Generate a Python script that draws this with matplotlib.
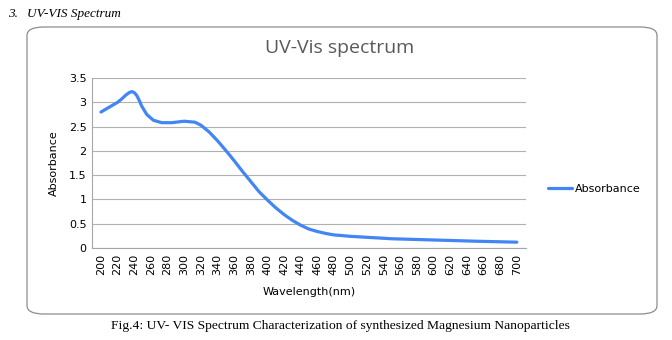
import matplotlib
matplotlib.use("Agg")
import matplotlib.pyplot as plt
from matplotlib.patches import FancyBboxPatch

# wavelengths (nm) and absorbance
wavelength = [200, 210, 220, 225, 230, 234, 237, 240, 243, 246, 249, 255, 263,
              273, 285, 300, 313, 320, 330, 340, 350, 360, 370, 380, 390, 400,
              410, 420, 430, 440, 450, 460, 470, 480, 490, 500, 550, 600, 650,
              700]
absorbance = [2.80, 2.90, 3.00, 3.07, 3.15, 3.20, 3.22, 3.20, 3.14, 3.04, 2.92,
              2.75, 2.63, 2.58, 2.58, 2.61, 2.59, 2.53, 2.39, 2.21, 2.01, 1.80,
              1.58, 1.37, 1.16, 0.99, 0.83, 0.69, 0.57, 0.47, 0.39, 0.34, 0.30,
              0.27, 0.255, 0.24, 0.19, 0.165, 0.14, 0.12]
xticks = list(range(200, 701, 20))
yticks = [0, 0.5, 1, 1.5, 2, 2.5, 3, 3.5]

W, H = 672, 340
fig = plt.figure(figsize=(W / 100, H / 100), dpi=100)

# rounded chart border
box = FancyBboxPatch((27 / W, 1 - 314 / H), 630 / W, 287 / H,
                     boxstyle="round,pad=0,rounding_size=0.025",
                     transform=fig.transFigure, facecolor="white",
                     edgecolor="#8c8c8c", linewidth=0.9, zorder=-1)
fig.patches.append(box)

ax = fig.add_axes([92 / W, 1 - 248 / H, (526 - 92) / W, (248 - 78) / H])
ax.set_zorder(2)
ax.set_facecolor("none")
ax.plot(wavelength, absorbance, color="#4285f4", linewidth=2.3,
        label="Absorbance", solid_capstyle="round", solid_joinstyle="round")

ax.set_xlim(189.2, 711)
ax.set_ylim(0, 3.5)
ax.set_xticks(xticks)
ax.set_xticklabels([str(v) for v in xticks], rotation=90)
ax.set_yticks(yticks)
ax.set_yticklabels(["0", "0.5", "1", "1.5", "2", "2.5", "3", "3.5"])
ax.tick_params(axis="both", length=0, labelsize=8, colors="#000000", pad=4)
ax.grid(axis="y", color="#b0b0b0", linewidth=0.8)
ax.set_axisbelow(True)
for side in ["top", "right"]:
    ax.spines[side].set_visible(False)
for side in ["left", "bottom"]:
    ax.spines[side].set_color("#a6a6a6")
    ax.spines[side].set_linewidth(0.8)

ax.set_xlabel("Wavelength(nm)", fontsize=8, labelpad=9)
ax.set_ylabel("Absorbance", fontsize=8, labelpad=7)

fig.text(340 / W, 1 - 48 / H, "UV-Vis spectrum", ha="center", va="center",
         fontsize=14, color="#595959", family="Open Sans")

ax.legend(loc="center left", bbox_to_anchor=(542 / W, 1 - 189 / H),
          bbox_transform=fig.transFigure, frameon=False, fontsize=8,
          handlelength=2.2, handletextpad=0.3, borderpad=0)

fig.text(8 / W, 1 - 14 / H, "3.", ha="left", va="center",
         fontsize=9.5, style="italic", family="Liberation Serif")
fig.text(27 / W, 1 - 14 / H, "UV-VIS Spectrum", ha="left", va="center",
         fontsize=9.5, style="italic", family="Liberation Serif")
fig.text(340 / W, 1 - 326 / H,
         "Fig.4: UV- VIS Spectrum Characterization of synthesized Magnesium Nanoparticles",
         ha="center", va="center", fontsize=9.7, family="Liberation Serif")

fig.savefig("out.png", dpi=100)
